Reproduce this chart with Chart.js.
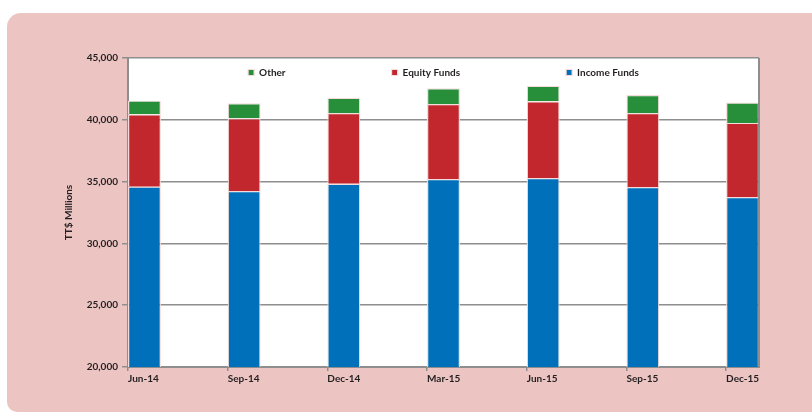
<!DOCTYPE html>
<html><head><meta charset="utf-8">
<script src="https://cdn.jsdelivr.net/npm/chart.js@4"></script>
<style>
html,body{margin:0;padding:0;background:#fff;width:812px;height:415px;overflow:hidden}
#bg{position:absolute;left:7px;top:13px;width:805px;height:399px;background:#ECC5C3;border-radius:14px 0 0 10px}
#c{position:absolute;left:0;top:0}
</style></head><body>
<div id="bg"></div>
<canvas id="c" width="812" height="415"></canvas>
<script>
const categories = ['Jun-14','Sep-14','Dec-14','Mar-15','Jun-15','Sep-15','Dec-15'];
const incomeFunds = [34590, 34240, 34830, 35210, 35290, 34560, 33760];
const equityFunds = [5860, 5880, 5720, 6070, 6210, 5990, 5990];
const otherFunds  = [1100, 1210, 1240, 1270, 1260, 1460, 1640];
const yMin = 20000, yMax = 45000, yStep = 5000;
const seriesNames = ['Income Funds', 'Equity Funds', 'Other'];

const BAR_FRAC = 0.33;
const FONT = {family: 'Lato', weight: 'bold', size: 10};
const TXT = '#231f20';
const GRID = '#8e8e8e';

function pts(arr){ return arr.map((v,i)=>({x: i + BAR_FRAC/2, y: v})); }

const plotBg = {
  id: 'plotBg',
  beforeDraw(chart){
    const {ctx, chartArea: ca} = chart;
    ctx.save(); ctx.fillStyle = '#fff';
    ctx.fillRect(ca.left, ca.top, ca.right - ca.left, ca.bottom - ca.top);
    ctx.restore();
    const lg = chart.legend; const P = lg.options.labels.padding;
    lg.left = ca.left - 200; lg.right = ca.right + 200; lg.width = lg.right - lg.left;
    lg.top = ca.top + 9.5 - P; lg.bottom = lg.top + P + 30; lg.height = lg.bottom - lg.top;
  },
  afterDatasetsDraw(chart){
    const {ctx, chartArea: ca} = chart;
    ctx.save(); ctx.strokeStyle = GRID; ctx.lineWidth = 2;
    ctx.beginPath(); ctx.moveTo(ca.right, ca.top); ctx.lineTo(ca.right, ca.bottom + 1); ctx.stroke();
    ctx.restore();
  }
};

const border = '#F3DCDB';
new Chart(document.getElementById('c'), {
  type: 'bar',
  data: {
    datasets: [
      {label: seriesNames[0], data: pts(incomeFunds), backgroundColor: '#0070BA', borderColor: border, borderWidth: 1.2},
      {label: seriesNames[1], data: pts(equityFunds), backgroundColor: '#C1272D', borderColor: border, borderWidth: 1.2},
      {label: seriesNames[2], data: pts(otherFunds), backgroundColor: '#278E3A', borderColor: border, borderWidth: 1.2}
    ]
  },
  options: {
    responsive: false, animation: false, devicePixelRatio: 1,
    layout: {padding: {left: 0, top: 58, right: 53, bottom: 18}},
    datasets: {bar: {barPercentage: 1, categoryPercentage: BAR_FRAC}},
    plugins: {
      tooltip: {enabled: false},
      legend: {
        position: 'top', reverse: true, maxHeight: 0.001,
        labels: {boxWidth: 6, boxHeight: 6, padding: 106, font: FONT, color: TXT}
      }
    },
    scales: {
      x: {
        type: 'linear', stacked: true, offset: false, min: 0, max: categories.length - 1 + BAR_FRAC,
        afterBuildTicks(s){ s.ticks = categories.map((c,i)=>({value: i})); },
        afterFit(s){ s.height = 30; },
        ticks: {align: 'start', padding: 2, font: FONT, color: TXT, maxRotation: 0, autoSkip: false,
          callback: (v, i) => categories[i]},
        grid: {drawOnChartArea: false, drawTicks: true, tickLength: 4, color: GRID, lineWidth: 1.5, offset: false},
        border: {color: GRID, width: 2}
      },
      y: {
        stacked: true, min: yMin, max: yMax,
        afterFit(s){ s.width = 128; },
        ticks: {stepSize: yStep, padding: 4, font: FONT, color: TXT},
        grid: {color: GRID, lineWidth: 1.5, tickLength: 6, drawTicks: true},
        border: {color: GRID, width: 2},
        title: {display: true, text: 'TT$ Millions', font: FONT, color: TXT, padding: {top: 63, bottom: 0}}
      }
    }
  },
  plugins: [plotBg]
});
</script>
</body></html>
